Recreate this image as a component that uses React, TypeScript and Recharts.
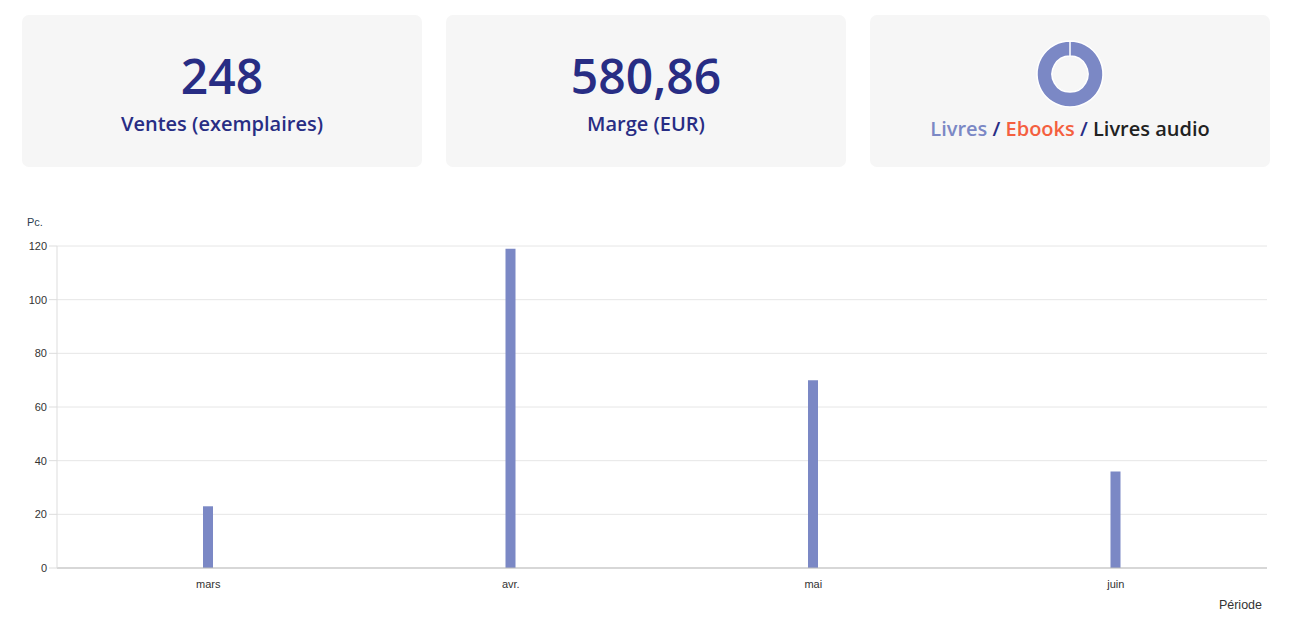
import { Bar, BarChart, CartesianGrid, Cell, Pie, PieChart, XAxis, YAxis } from 'recharts';

const MONTHS = ['mars', 'avr.', 'mai', 'juin'];
const SALES = [23, 119, 70, 36];
const Y_TICKS = [0, 20, 40, 60, 80, 100, 120];

const FORMATS = ['Livres', 'Ebooks', 'Livres audio'];
const FORMAT_SALES = [248, 0, 0];
const FORMAT_COLORS = ['#7b88c5', '#f4603f', '#222222'];

const TOTAL_SALES = '248';
const MARGIN_EUR = '580,86';

const NAVY = '#282d84';
const CARD_FONT = '"Open Sans", "Noto Sans", sans-serif';
const AXIS_FONT = '"Liberation Sans", Arial, sans-serif';

const chartData = MONTHS.map((m, i) => ({ month: m, value: SALES[i] }));
const pieData = FORMATS.map((f, i) => ({ name: f, value: FORMAT_SALES[i] }));

const cardStyle: React.CSSProperties = {
  position: 'absolute',
  top: 7,
  width: 400,
  height: 152,
  background: '#f6f6f6',
  borderRadius: 7,
  fontFamily: CARD_FONT,
  textAlign: 'center',
};

// carte chiffre clé
function StatCard({ left, value, label }: { left: number; value: string; label: string }) {
  return (
    <div style={{ ...cardStyle, left }}>
      <div style={{ marginTop: 37, fontSize: 48, lineHeight: '48px', fontWeight: 600, color: NAVY }}>{value}</div>
      <div style={{ marginTop: 13.5, fontSize: 20, lineHeight: '20px', fontWeight: 600, color: NAVY }}>{label}</div>
    </div>
  );
}

function FormatCard({ left }: { left: number }) {
  return (
    <div style={{ ...cardStyle, left }}>
      <div style={{ position: 'absolute', left: 160, top: 19 }}>
        <PieChart width={80} height={80} margin={{ top: 0, right: 0, bottom: 0, left: 0 }}>
          <Pie
            data={pieData}
            dataKey="value"
            cx={40}
            cy={40}
            innerRadius={18}
            outerRadius={33}
            startAngle={90}
            endAngle={-270}
            stroke="#ffffff"
            strokeWidth={1.5}
            isAnimationActive={false}
          >
            {pieData.map((d, i) => (
              <Cell key={d.name} fill={FORMAT_COLORS[i]} />
            ))}
          </Pie>
        </PieChart>
      </div>
      <div
        style={{
          position: 'absolute',
          left: 0,
          right: 0,
          top: 104,
          fontSize: 20,
          lineHeight: '20px',
          fontWeight: 600,
          color: NAVY,
        }}
      >
        <span style={{ color: FORMAT_COLORS[0] }}>{FORMATS[0]}</span>
        {' / '}
        <span style={{ color: FORMAT_COLORS[1] }}>{FORMATS[1]}</span>
        {' / '}
        <span style={{ color: FORMAT_COLORS[2] }}>{FORMATS[2]}</span>
      </div>
    </div>
  );
}

export default function App() {
  const axisFont = { fontSize: 11, fill: '#333', fontFamily: AXIS_FONT };
  return (
    <div style={{ position: 'relative', width: 1273, height: 608 }}>
      <StatCard left={14} value={TOTAL_SALES} label="Ventes (exemplaires)" />
      <StatCard left={438} value={MARGIN_EUR} label="Marge (EUR)" />
      <FormatCard left={862} />

      <div style={{ position: 'absolute', left: 0, top: 192 }}>
        <BarChart
          width={1270}
          height={424}
          data={chartData}
          margin={{ top: 46, right: 11, bottom: 26, left: 0 }}
        >
          <CartesianGrid horizontal vertical={false} stroke="#e6e6e6" />
          <XAxis
            dataKey="month"
            height={30}
            tick={axisFont}
            tickLine={false}
            tickSize={8}
            tickMargin={4}
            stroke="#bbbbbb"
          />
          <YAxis
            width={49}
            domain={[0, 120]}
            ticks={Y_TICKS}
            tick={axisFont}
            tickSize={8}
            tickMargin={2}
            stroke="#dddddd"
            interval={0}
          />
          <Bar dataKey="value" fill="#7b88c5" barSize={10} isAnimationActive={false} />
        </BarChart>
        <div style={{ position: 'absolute', left: 19, top: 16, fontSize: 11, color: '#2c3e50', fontFamily: AXIS_FONT }}>
          Pc.
        </div>
        <div style={{ position: 'absolute', right: 16, top: 398, fontSize: 12.5, color: '#333', fontFamily: AXIS_FONT }}>
          Période
        </div>
      </div>
    </div>
  );
}
